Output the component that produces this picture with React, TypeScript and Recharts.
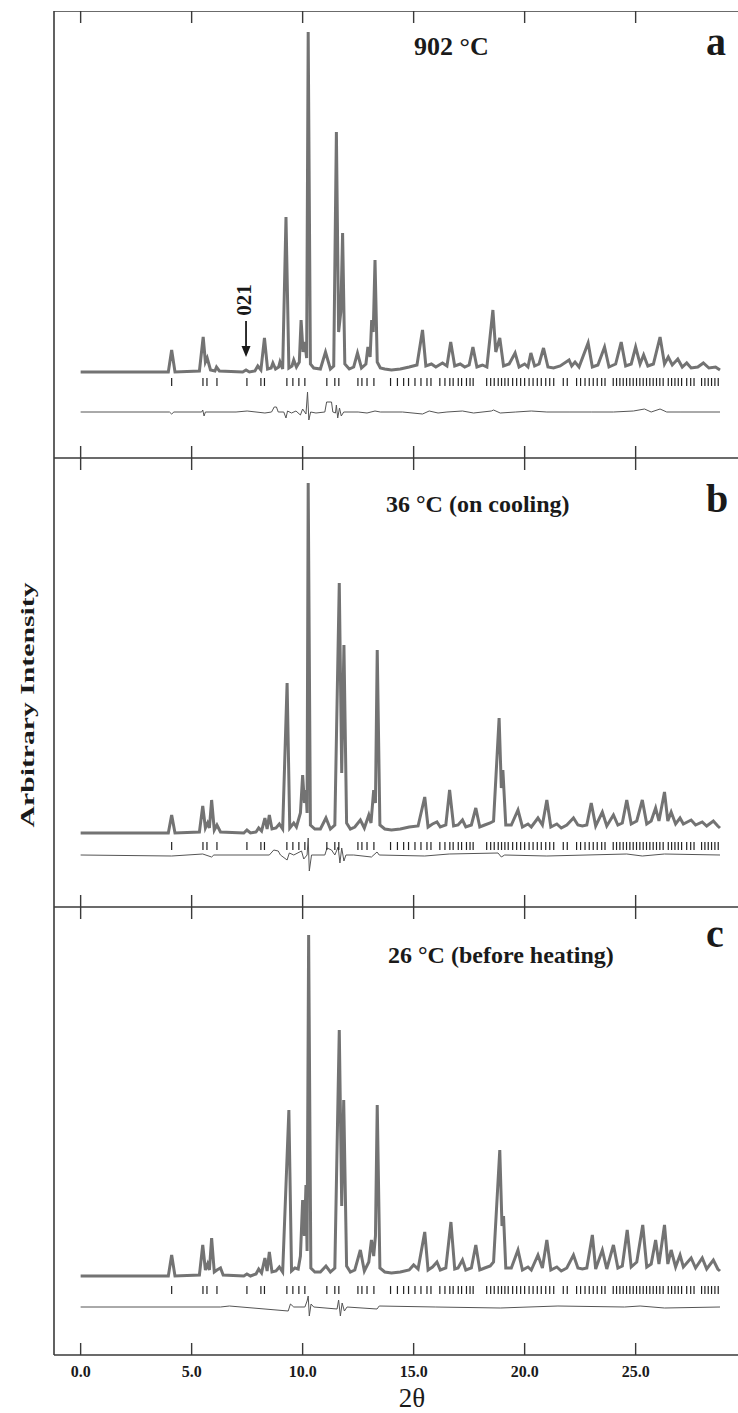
import { ComposedChart, Line, Scatter, XAxis, YAxis, ReferenceLine } from "recharts"

const SERIF = '"Liberation Serif", "Times New Roman", serif'
const FRAME = "#3a3a3a"

const xTicks = [0, 5, 10, 15, 20, 25, 30]
const labelTicks = [0, 5, 10, 15, 20, 25]
const xTickLabels = ["0.0", "5.0", "10.0", "15.0", "20.0", "25.0"]

// Bragg reflection positions (2θ), same row of marks in every panel
const reflections = [
  4.1, 5.51, 5.69, 6.14, 7.49, 8.12, 8.28, 9.29, 9.56, 9.83, 10.1, 11.09, 11.45, 11.63, 12.49, 12.67, 12.9, 13.21,
  13.96, 14.27, 14.55, 14.77, 15.06, 15.33, 15.6, 15.78, 16.18, 16.41, 16.63, 16.78, 17.01, 17.16, 17.38, 17.54, 17.68,
  18.29, 18.47, 18.63, 18.81, 18.96, 19.11, 19.26, 19.46, 19.64, 19.82, 20.0, 20.2, 20.38, 20.57, 20.75, 20.95, 21.13,
  21.31, 21.74, 21.92, 22.34, 22.52, 22.72, 22.91, 23.09, 23.27, 23.47, 23.62, 23.99, 24.14, 24.29, 24.44, 24.59, 24.74,
  24.89, 25.04, 25.19, 25.34, 25.49, 25.64, 25.79, 25.94, 26.09, 26.24, 26.47, 26.62, 26.77, 26.92, 27.07, 27.3, 27.48,
  27.63, 27.97, 28.12, 28.27, 28.42, 28.57, 28.72,
]

// profiles: [2θ, intensity above background]
const profileA: [number, number][] = [
  [0, 0], [3.95, 0], [4.1, 22], [4.25, 0], [5.35, 1], [5.52, 35], [5.62, 10], [5.7, 14], [5.85, 2], [6.05, 1], [6.12, 5],
  [6.25, 1], [7.3, 0], [7.45, 2], [7.6, 0], [7.85, 1], [7.98, 6], [8.12, 2], [8.28, 34], [8.42, 3], [8.58, 4], [8.66, 9],
  [8.78, 3], [8.92, 5], [8.98, 10], [9.1, 3], [9.25, 155], [9.38, 4], [9.52, 6], [9.6, 12], [9.72, 5], [9.85, 10],
  [9.93, 52], [10.02, 20], [10.1, 30], [10.18, 14], [10.25, 340], [10.35, 8], [10.5, 4], [10.8, 3], [11.03, 20],
  [11.25, 3], [11.4, 6], [11.52, 240], [11.62, 40], [11.72, 60], [11.8, 139], [11.9, 8], [12.1, 3], [12.3, 5],
  [12.47, 19], [12.65, 4], [12.85, 8], [12.94, 25], [13.04, 15], [13.11, 52], [13.18, 40], [13.26, 112], [13.36, 10],
  [13.5, 4], [13.7, 3], [14.0, 2], [14.4, 3], [14.8, 5], [15.15, 7], [15.4, 42], [15.55, 6], [15.8, 8], [16.0, 5],
  [16.3, 9], [16.5, 6], [16.67, 30], [16.85, 6], [17.1, 8], [17.3, 5], [17.5, 7], [17.67, 25], [17.85, 5], [18.1, 7],
  [18.3, 5], [18.57, 62], [18.7, 20], [18.88, 34], [19.05, 6], [19.3, 8], [19.57, 19], [19.75, 5], [20.0, 8],
  [20.15, 5], [20.28, 19], [20.45, 6], [20.65, 8], [20.85, 24], [21.05, 5], [21.3, 4], [21.6, 6], [22.0, 12],
  [22.12, 6], [22.27, 10], [22.45, 5], [22.86, 29], [23.05, 5], [23.3, 7], [23.6, 25], [23.8, 5], [24.1, 8],
  [24.35, 30], [24.55, 6], [24.8, 8], [25.0, 25], [25.2, 8], [25.36, 17], [25.55, 6], [25.8, 8], [26.1, 35], [26.3, 8],
  [26.47, 15], [26.65, 7], [26.9, 13], [27.1, 5], [27.3, 9], [27.5, 4], [27.8, 5], [28.05, 9], [28.3, 4], [28.6, 5],
  [28.8, 2],
]

const diffA: [number, number][] = [
  [0, -40], [4.0, -40], [4.1, -42], [4.2, -40], [5.45, -40], [5.5, -38], [5.56, -44], [5.62, -40], [7.0, -40],
  [7.5, -39], [8.3, -41], [8.6, -40], [8.72, -35], [8.82, -35], [8.9, -40], [9.15, -40], [9.25, -46], [9.32, -39],
  [9.5, -41], [9.7, -39], [9.9, -43], [10.0, -37], [10.15, -42], [10.22, -20], [10.28, -48], [10.36, -40], [10.6, -41],
  [11.0, -40], [11.08, -30], [11.3, -30], [11.36, -40], [11.48, -41], [11.52, -33], [11.58, -46], [11.66, -36],
  [11.74, -44], [11.85, -40], [12.5, -40], [12.9, -41], [13.26, -39], [13.5, -40], [14.5, -40], [15.4, -42],
  [15.7, -39], [16.1, -41], [16.5, -40], [17.2, -39], [17.7, -41], [18.5, -39], [18.6, -38], [18.9, -41], [19.6, -40],
  [20.3, -39], [21.0, -40], [22.0, -40], [23.0, -40], [24.0, -40], [24.9, -39], [25.4, -37], [25.7, -40], [26.1, -37],
  [26.4, -40], [27.0, -40], [28.8, -40],
]

const profileB: [number, number][] = [
  [0, 0], [3.95, 0], [4.1, 18], [4.25, 0], [5.35, 1], [5.5, 27], [5.62, 5], [5.72, 10], [5.8, 5], [5.9, 33], [6.02, 3],
  [6.14, 8], [6.3, 1], [7.35, 0], [7.49, 3], [7.65, 0], [7.9, 1], [8.02, 5], [8.15, 2], [8.3, 15], [8.4, 4], [8.5, 18],
  [8.62, 4], [8.8, 5], [8.95, 9], [9.1, 4], [9.3, 150], [9.42, 5], [9.6, 10], [9.72, 6], [9.9, 20], [10.0, 58],
  [10.08, 30], [10.15, 43], [10.2, 20], [10.25, 350], [10.35, 8], [10.55, 4], [10.8, 4], [11.05, 15], [11.25, 4],
  [11.45, 8], [11.65, 250], [11.76, 60], [11.86, 188], [11.98, 10], [12.15, 4], [12.35, 6], [12.6, 13], [12.78, 5],
  [12.98, 18], [13.08, 10], [13.2, 43], [13.28, 30], [13.36, 183], [13.48, 8], [13.7, 4], [14.0, 3], [14.4, 4],
  [14.8, 6], [15.2, 7], [15.5, 36], [15.65, 6], [15.85, 9], [16.05, 11], [16.2, 6], [16.45, 8], [16.62, 43], [16.8, 7],
  [17.0, 8], [17.2, 13], [17.35, 6], [17.6, 8], [17.8, 25], [17.98, 6], [18.2, 8], [18.45, 10], [18.6, 12],
  [18.85, 115], [18.95, 45], [19.02, 63], [19.15, 8], [19.4, 8], [19.7, 23], [19.9, 6], [20.15, 9], [20.3, 6],
  [20.6, 15], [20.8, 8], [21.0, 33], [21.18, 6], [21.45, 9], [21.65, 5], [21.9, 8], [22.2, 15], [22.4, 8], [22.6, 7],
  [22.8, 8], [23.0, 30], [23.2, 7], [23.5, 21], [23.7, 7], [24.0, 18], [24.2, 8], [24.4, 10], [24.6, 33], [24.8, 9],
  [25.05, 12], [25.3, 33], [25.5, 9], [25.7, 12], [25.9, 25], [26.05, 12], [26.3, 41], [26.45, 12], [26.6, 21],
  [26.8, 9], [27.0, 15], [27.15, 9], [27.5, 13], [27.7, 8], [28.0, 11], [28.2, 7], [28.5, 12], [28.7, 7], [28.8, 5],
]

const diffB: [number, number][] = [
  [0, -22], [4.1, -23], [5.5, -21], [5.9, -24], [6.0, -22], [8.5, -22], [8.7, -17], [8.9, -18], [9.0, -22],
  [9.3, -27], [9.4, -20], [9.6, -22], [9.95, -18], [10.05, -26], [10.2, -22], [10.25, -5], [10.3, -38], [10.4, -22],
  [11.0, -22], [11.1, -15], [11.3, -17], [11.45, -22], [11.6, -14], [11.68, -30], [11.76, -15], [11.86, -28],
  [11.95, -22], [12.3, -22], [13.1, -24], [13.35, -19], [13.45, -22], [15.5, -23], [16.6, -21], [18.8, -20],
  [18.95, -24], [19.1, -22], [21.0, -23], [24.6, -21], [25.3, -23], [26.3, -21], [28.8, -22],
]

const profileC: [number, number][] = [
  [0, 0], [3.95, 0], [4.1, 21], [4.25, 0], [5.35, 1], [5.5, 31], [5.62, 6], [5.72, 12], [5.8, 6], [5.9, 38], [6.02, 4],
  [6.14, 6], [6.3, 8], [6.42, 1], [7.35, 0], [7.49, 2], [7.65, 0], [7.9, 2], [8.02, 7], [8.15, 3], [8.3, 18], [8.4, 5],
  [8.5, 24], [8.62, 4], [8.8, 5], [8.95, 9], [9.1, 4], [9.38, 166], [9.5, 5], [9.65, 8], [9.8, 7], [9.9, 20],
  [10.0, 76], [10.08, 40], [10.15, 91], [10.2, 25], [10.27, 341], [10.37, 8], [10.55, 4], [10.8, 4], [11.05, 10],
  [11.25, 4], [11.45, 8], [11.65, 246], [11.76, 70], [11.85, 176], [11.98, 10], [12.15, 4], [12.35, 6], [12.6, 26],
  [12.78, 5], [12.98, 14], [13.1, 36], [13.2, 20], [13.28, 40], [13.36, 171], [13.48, 8], [13.7, 4], [14.0, 3],
  [14.4, 4], [14.8, 6], [15.0, 11], [15.2, 7], [15.5, 44], [15.65, 6], [15.85, 9], [16.05, 14], [16.2, 6], [16.45, 8],
  [16.68, 54], [16.85, 7], [17.0, 8], [17.2, 16], [17.35, 6], [17.6, 8], [17.8, 31], [17.98, 6], [18.2, 8], [18.45, 10],
  [18.6, 14], [18.88, 126], [18.98, 50], [19.05, 60], [19.15, 8], [19.4, 8], [19.7, 26], [19.9, 6], [20.15, 9],
  [20.3, 6], [20.6, 21], [20.8, 8], [21.0, 36], [21.18, 6], [21.45, 9], [21.65, 5], [21.9, 8], [22.2, 21], [22.4, 8],
  [22.6, 7], [22.8, 8], [23.05, 41], [23.2, 7], [23.5, 26], [23.7, 7], [24.0, 31], [24.2, 8], [24.4, 10], [24.62, 46],
  [24.8, 9], [25.05, 14], [25.32, 51], [25.5, 9], [25.7, 12], [25.9, 36], [26.05, 12], [26.3, 51], [26.45, 12],
  [26.6, 26], [26.8, 9], [27.0, 21], [27.15, 9], [27.5, 18], [27.7, 8], [28.0, 18], [28.2, 7], [28.5, 16], [28.7, 7],
  [28.8, 5],
]

const diffC: [number, number][] = [
  [0, -31], [6.3, -31], [6.7, -30], [9.35, -35], [9.45, -28], [9.6, -31], [10.1, -31], [10.2, -25], [10.25, -20],
  [10.3, -40], [10.38, -28], [10.5, -31], [11.55, -33], [11.62, -24], [11.7, -40], [11.78, -27], [11.88, -35],
  [12.0, -31], [13.35, -33], [13.45, -30], [16.0, -31], [18.9, -32], [21.5, -30], [24.5, -31], [25.2, -30],
  [26.3, -32], [28.8, -31],
]

// "021" arrow: 2θ, from / to intensity
const arrow021 = { x: 7.45, from: 51, to: 15, label: "021" }

const toRows = (pts: [number, number][]) => pts.map(([x, y]) => ({ x, y }))

const ArrowShape = (props: any) => {
  const { x1, y1, x2, y2 } = props
  return (
    <g>
      <line x1={x1} y1={y1} x2={x2} y2={y2 - 8} stroke="#1a1a1a" strokeWidth={1.8} />
      <path d={`M${x2 - 4.5},${y2 - 11} L${x2},${y2} L${x2 + 4.5},${y2 - 11} Z`} fill="#1a1a1a" />
      <text
        transform={`translate(${x1 + 5},${y1 - 21}) rotate(-90)`}
        textAnchor="middle"
        fontFamily={SERIF}
        fontWeight="bold"
        fontSize={21}
        fill="#1a1a1a"
      >
        {arrow021.label}
      </text>
    </g>
  )
}

const TickLabel = (props: any) => {
  const { x, y, payload } = props
  const label = xTickLabels[labelTicks.indexOf(payload.value)]
  return (
    <text x={x} y={y + 22} textAnchor="middle" fontFamily={SERIF} fontWeight="bold" fontSize={16} fill="#1a1a1a">
      {label}
    </text>
  )
}

// tick lines only, no label
const NoLabel = () => <g />

interface PanelProps {
  profile: [number, number][]
  diff: [number, number][]
  tickLevel: number
  domain: [number, number]
  height: number
  bottomPad: number
  showLabels?: boolean
  showArrow?: boolean
}

function Panel({ profile, diff, tickLevel, domain, height, bottomPad, showLabels, showArrow }: PanelProps) {
  const tickRows = reflections.map((x) => ({ x, y: tickLevel }))
  const axisCommon = {
    dataKey: "x",
    type: "number" as const,
    domain: [-1.2, 30] as [number, number],
    allowDataOverflow: true,
    height: 1,
  }
  return (
    <ComposedChart
      width={760}
      height={height + bottomPad}
      margin={{ top: 0, right: 13.36, bottom: showLabels ? bottomPad - 1 : bottomPad, left: 53 }}
    >
      <XAxis
        {...axisCommon}
        xAxisId="b"
        ticks={xTicks}
        orientation="bottom"
        mirror
        tick={NoLabel}
        tickSize={12}
        axisLine={{ stroke: FRAME, strokeWidth: 1.6 }}
        tickLine={{ stroke: FRAME, strokeWidth: 1.4 }}
      />
      <XAxis
        {...axisCommon}
        xAxisId="t"
        ticks={xTicks}
        orientation="top"
        mirror
        tick={NoLabel}
        tickSize={12}
        axisLine={{ stroke: FRAME, strokeWidth: 1.6 }}
        tickLine={{ stroke: FRAME, strokeWidth: 1.4 }}
      />
      {showLabels && (
        <XAxis
          {...axisCommon}
          xAxisId="l"
          ticks={labelTicks}
          orientation="bottom"
          tickSize={0}
          tickMargin={0}
          axisLine={false}
          tickLine={false}
          tick={(p: any) => <TickLabel {...p} />}
        />
      )}
      <YAxis
        yAxisId="y"
        type="number"
        domain={domain}
        allowDataOverflow
        tick={false}
        tickLine={false}
        width={1}
        axisLine={{ stroke: FRAME, strokeWidth: 1.6 }}
      />
      <Scatter
        xAxisId="b"
        yAxisId="y"
        data={tickRows}
        dataKey="y"
        isAnimationActive={false}
        shape={(p: any) => (
          <line x1={p.cx} x2={p.cx} y1={p.cy - 4} y2={p.cy + 4} stroke="#222" strokeWidth={1.2} />
        )}
      />
      <Line
        xAxisId="b"
        yAxisId="y"
        data={toRows(diff)}
        dataKey="y"
        type="linear"
        stroke="#555"
        strokeWidth={1}
        dot={false}
        isAnimationActive={false}
      />
      <Line
        xAxisId="b"
        yAxisId="y"
        data={toRows(profile)}
        dataKey="y"
        type="linear"
        stroke="#737373"
        strokeWidth={3}
        dot={false}
        isAnimationActive={false}
      />
      {showArrow && (
        <ReferenceLine
          xAxisId="b"
          yAxisId="y"
          segment={[
            { x: arrow021.x, y: arrow021.from },
            { x: arrow021.x, y: arrow021.to },
          ]}
          shape={(p: any) => <ArrowShape {...p} />}
        />
      )}
    </ComposedChart>
  )
}

export default function App() {
  const textStyle = { fontFamily: SERIF, fontWeight: "bold" as const, fill: "#1a1a1a" }
  return (
    <div style={{ position: "absolute", left: 0, top: 0, width: 738, height: 1413, overflow: "hidden", background: "#fff" }}>
      <div style={{ position: "absolute", left: 0, top: 11 }}>
        <Panel profile={profileA} diff={diffA} tickLevel={-10} domain={[-86, 361]} height={447} bottomPad={0} showArrow />
      </div>
      <div style={{ position: "absolute", left: 0, top: 458 }}>
        <Panel profile={profileB} diff={diffB} tickLevel={-13} domain={[-74, 375]} height={449} bottomPad={0} />
      </div>
      <div style={{ position: "absolute", left: 0, top: 907 }}>
        <Panel profile={profileC} diff={diffC} tickLevel={-14} domain={[-79, 369]} height={448} bottomPad={58} showLabels />
      </div>
      <svg width={738} height={1413} style={{ position: "absolute", left: 0, top: 0, pointerEvents: "none" }}>
        <text x={414} y={55} fontSize={26} {...textStyle}>902 °C</text>
        <text x={706} y={55} fontSize={40} {...textStyle}>a</text>
        <text x={386} y={512} fontSize={24} {...textStyle}>36 °C (on cooling)</text>
        <text x={706} y={512} fontSize={40} {...textStyle}>b</text>
        <text x={388} y={963} fontSize={24} {...textStyle}>26 °C (before heating)</text>
        <text x={706} y={947} fontSize={40} {...textStyle}>c</text>
        <text
          transform="translate(34,705) rotate(-90)"
          textAnchor="middle"
          fontSize={19}
          textLength={245}
          lengthAdjust="spacingAndGlyphs"
          {...textStyle}
        >
          Arbitrary Intensity
        </text>
        <text x={412} y={1407} textAnchor="middle" fontSize={27} fontFamily={SERIF} fill="#1a1a1a">
          2θ
        </text>
      </svg>
    </div>
  )
}
